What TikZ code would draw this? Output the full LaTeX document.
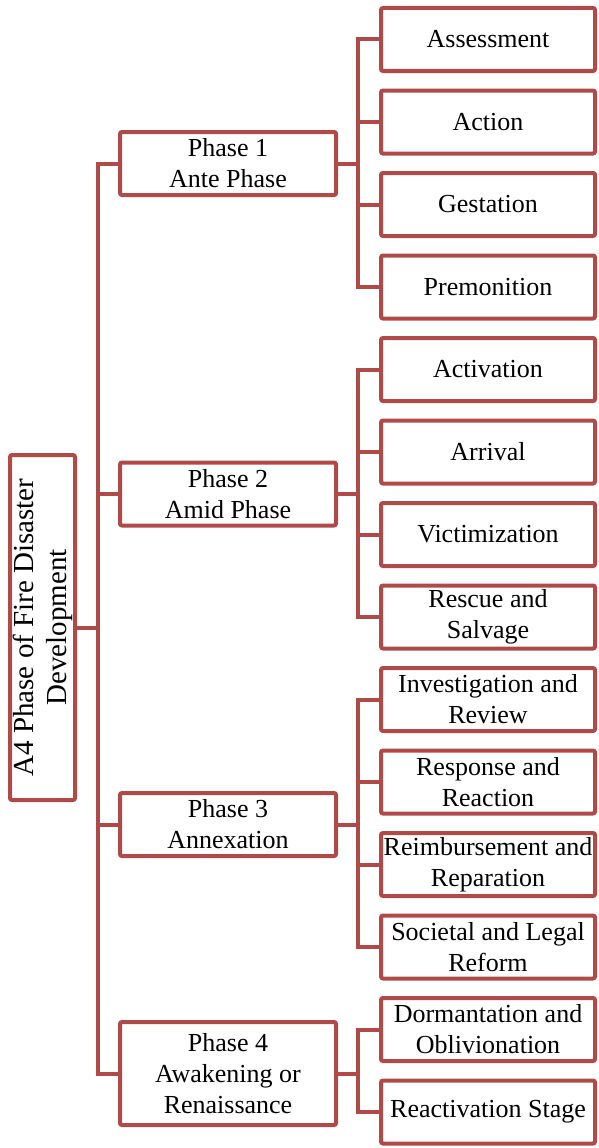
\documentclass[tikz,border=0pt]{standalone}
\usepackage{fontspec}
\setmainfont{Liberation Serif}
\definecolor{boxred}{RGB}{176,74,72}
\begin{document}
\begin{tikzpicture}[x=1pt,y=-1pt,
  every node/.style={inner sep=0pt,outer sep=0pt},
  base/.style={draw=boxred,line width=4pt,rounded corners=2pt,fill=white,align=center,
    font=\fontsize{26}{31}\selectfont},
  childbox/.style={base,minimum width=214pt,minimum height=63pt},
  phasebox/.style={base,minimum width=216pt,minimum height=63pt},
  rootbox/.style={base,rotate=90,minimum width=345pt,minimum height=65pt,
    font=\fontsize{29}{33}\selectfont},
  conn/.style={draw=boxred,line width=4pt}]
\useasboundingbox (0,0) rectangle (598,1148);
\coordinate (tr) at (98,0);
\coordinate (sx) at (358,0);
% root
\node[rootbox] (root) at (42.5,627.5) {A4 Phase of Fire Disaster\\Development};
% phases
\node[phasebox] (p1) at (228,163.5) {Phase 1\\Ante Phase};
\node[phasebox] (p2) at (228,494) {Phase 2\\Amid Phase};
\node[phasebox] (p3) at (228,824.5) {Phase 3\\Annexation};
\node[phasebox,minimum height=103pt] (p4) at (228,1073.5) {Phase 4\\Awakening or\\Renaissance};
% children
\node[childbox] (c1) at (488,39.5) {Assessment};
\node[childbox] (c2) at (488,122) {Action};
\node[childbox] (c3) at (488,204.5) {Gestation};
\node[childbox] (c4) at (488,287) {Premonition};
\node[childbox] (c5) at (488,369.5) {Activation};
\node[childbox] (c6) at (488,452) {Arrival};
\node[childbox] (c7) at (488,534.5) {Victimization};
\node[childbox] (c8) at (488,617) {Rescue and\\Salvage};
\node[childbox] (c9) at (488,699.5) {Investigation and\\Review};
\node[childbox] (c10) at (488,782) {Response and\\Reaction};
\node[childbox] (c11) at (488,864.5) {Reimbursement and\\Reparation};
\node[childbox] (c12) at (488,947) {Societal and Legal\\Reform};
\node[childbox] (c13) at (488,1029.5) {Dormantation and\\Oblivionation};
\node[childbox] (c14) at (488,1112) {Reactivation Stage};
% trunk
\draw[conn] (p1.west) -| (tr |- p4.west) -- (p4.west);
\draw[conn] (p2.west) -- (p2.west -| tr);
\draw[conn] (p3.west) -- (p3.west -| tr);
\draw[conn] (root.south) -- (root.south -| tr);
% phase 1
\draw[conn] (c1.west) -| (sx |- c4.west) -- (c4.west);
\draw[conn] (c2.west) -- (c2.west -| sx);
\draw[conn] (c3.west) -- (c3.west -| sx);
\draw[conn] (p1.east) -- (p1.east -| sx);
% phase 2
\draw[conn] (c5.west) -| (sx |- c8.west) -- (c8.west);
\draw[conn] (c6.west) -- (c6.west -| sx);
\draw[conn] (c7.west) -- (c7.west -| sx);
\draw[conn] (p2.east) -- (p2.east -| sx);
% phase 3
\draw[conn] (c9.west) -| (sx |- c12.west) -- (c12.west);
\draw[conn] (c10.west) -- (c10.west -| sx);
\draw[conn] (c11.west) -- (c11.west -| sx);
\draw[conn] (p3.east) -- (p3.east -| sx);
% phase 4
\draw[conn] (c13.west) -| (sx |- c14.west) -- (c14.west);
\draw[conn] (p4.east) -- (p4.east -| sx);
\end{tikzpicture}
\end{document}
